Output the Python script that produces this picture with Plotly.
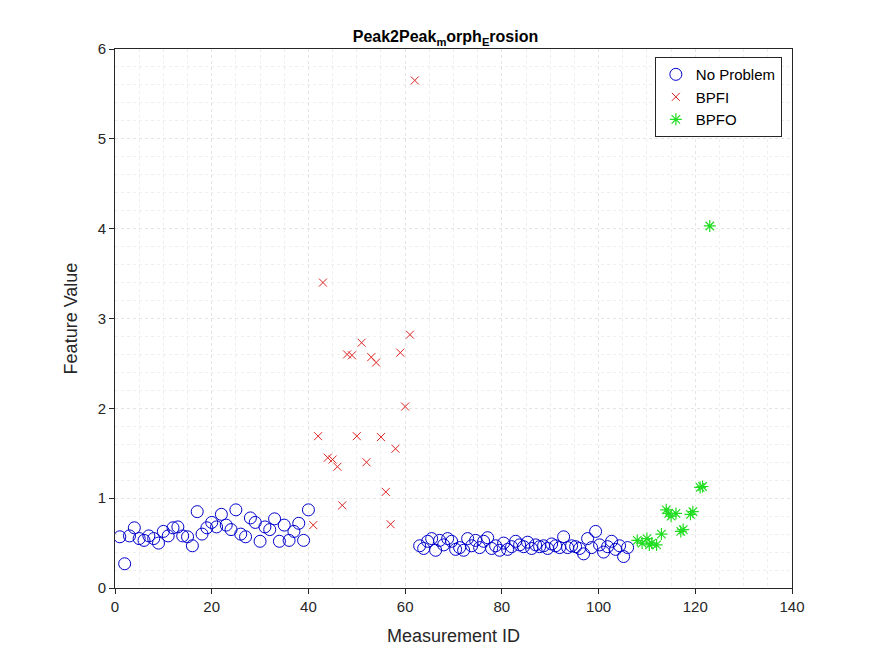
import plotly.graph_objects as go

# feature values
np_vals = [0.57, 0.27, 0.58, 0.67, 0.55, 0.53, 0.58, 0.55, 0.50, 0.63,
           0.58, 0.67, 0.68, 0.58, 0.57, 0.47, 0.85, 0.60, 0.67, 0.73,
           0.68, 0.82, 0.70, 0.65, 0.87, 0.60, 0.57, 0.78, 0.73, 0.52,
           0.68, 0.65, 0.77, 0.52, 0.70, 0.53, 0.63, 0.72, 0.53, 0.87,
           0.47, 0.44, 0.52, 0.55, 0.42, 0.53, 0.48, 0.55, 0.52, 0.43,
           0.45, 0.42, 0.55, 0.47, 0.53, 0.45, 0.52, 0.56, 0.44, 0.47,
           0.42, 0.50, 0.43, 0.46, 0.52, 0.48, 0.46, 0.51, 0.44, 0.48,
           0.46, 0.47, 0.44, 0.49, 0.47, 0.45, 0.57, 0.45, 0.47, 0.46,
           0.44, 0.38, 0.55, 0.45, 0.63, 0.48, 0.40, 0.46, 0.52, 0.43,
           0.47, 0.35, 0.45]

bpfi_ids = list(range(41, 63))
bpfi_vals = [0.70, 1.69, 3.40, 1.45, 1.43, 1.35, 0.92, 2.60, 2.59, 1.69, 2.73,
             1.40, 2.57, 2.51, 1.68, 1.07, 0.71, 1.55, 2.62, 2.02, 2.82, 5.65]

bpfo_ids = [108, 109, 110, 110.5, 111, 112, 113, 114, 114.5, 115, 116, 117,
            117.5, 119, 119.5, 121, 121.5, 123]
bpfo_vals = [0.53, 0.50, 0.55, 0.48, 0.50, 0.48, 0.60, 0.87, 0.83, 0.80, 0.83,
             0.63, 0.65, 0.82, 0.85, 1.12, 1.13, 4.03]

# second healthy block spans 63..106
n2 = len(np_vals) - 40
np_ids = list(range(1, 41)) + [63 + i * (106 - 63) / (n2 - 1) for i in range(n2)]

fig = go.Figure()
fig.add_trace(go.Scatter(x=np_ids, y=np_vals, mode='markers', name='No Problem',
                         marker=dict(symbol='circle-open', size=12, color='#0000cc', line=dict(width=1))))
fig.add_trace(go.Scatter(x=bpfi_ids, y=bpfi_vals, mode='markers', name='BPFI',
                         marker=dict(symbol='x-thin-open', size=8, color='#dd2222', line=dict(width=1, color='#dd2222'))))
fig.add_trace(go.Scatter(x=bpfo_ids, y=bpfo_vals, mode='markers', name='BPFO',
                         marker=dict(symbol='asterisk-open', size=10, color='#22dd22', line=dict(width=1.2, color='#22dd22'))))

ax = dict(showline=True, linecolor='#262626', mirror=True, ticks='outside', ticklen=5,
          tickcolor='#262626', gridcolor='#e4e4e4', griddash='dot', zeroline=False,
          minor=dict(showgrid=True, gridcolor='#eeeeee', griddash='dot'),
          tickfont=dict(size=15, color='#262626'))
fig.update_layout(
    width=875, height=656, plot_bgcolor='white', paper_bgcolor='white',
    font=dict(family='Liberation Sans, Arial', color='#262626'),
    title=dict(text='<b>Peak2Peak<sub>m</sub>orph<sub>E</sub>rosion</b>', x=0.5, y=0.965,
               xanchor='center', font=dict(size=16, color='black')),
    margin=dict(l=107, r=91, t=41, b=76),
    xaxis=dict(ax, range=[0, 140], dtick=20, minor_dtick=5,
               title=dict(text='Measurement ID', font=dict(size=18, color='#262626'))),
    yaxis=dict(ax, range=[0, 6], dtick=1, minor_dtick=0.2,
               title=dict(text='Feature Value', font=dict(size=18, color='#262626'))),
    legend=dict(x=0.985, y=0.985, xanchor='right', yanchor='top', bgcolor='white',
                bordercolor='#262626', borderwidth=1, font=dict(size=15, color='black')),
)
fig.write_html("out.html")
